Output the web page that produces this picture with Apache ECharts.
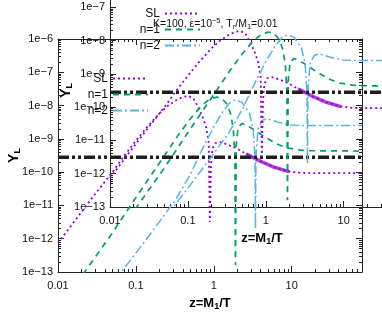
<!DOCTYPE html>
<html>
<head>
<meta charset="utf-8">
<script src="https://cdn.jsdelivr.net/npm/echarts@6/dist/echarts.min.js"></script>
<style>
  html, body { margin: 0; padding: 0; background: #fff; }
  #chart { width: 382px; height: 327px; }
</style>
</head>
<body>
<div id="chart"></div>
<script>
// |Y_L| against z = M1/T
const slZ = [0.01, 0.02, 0.03, 0.05, 0.07, 0.1, 0.14, 0.2, 0.26, 0.33, 0.4, 0.47, 0.55, 0.63, 0.72, 0.8, 0.86, 0.89,
  0.92, 0.96, 1.05, 1.2, 1.5, 2, 2.7, 4, 6, 9, 13, 20, 80];
const slY = [7.4e-13, 6.3e-12, 2.2e-11, 1.0e-10, 3.0e-10, 8.8e-10, 2.3e-9, 5.8e-9, 1.0e-8, 1.45e-8, 1.8e-8, 1.95e-8, 1.6e-8, 9e-9, 4.5e-9, 2.2e-9, 8e-10, 3.2e-12,
  1.5e-10, 5e-10, 7.5e-10, 8e-10, 6.8e-10, 5e-10, 3.4e-10, 2.1e-10, 1.4e-10, 1.05e-10, 9.5e-11, 9.3e-11, 9.3e-11];
// stretch of the SL curve where the numerics get noisy (drawn as a thick band)
const slNoisyFrom = 2.7;
const slNoisyTo = 12;

const n1Z = [0.01, 0.022, 0.05, 0.083, 0.15, 0.25, 0.35, 0.5, 0.7, 0.9, 1.1, 1.3, 1.5, 1.65, 1.78, 1.87, 1.9,
  1.94, 2.05, 2.3, 2.7, 3.5, 4.5, 6.5, 8.8, 13, 18, 80];
const n1Y = [7e-15, 1e-13, 1.5e-12, 9e-12, 7e-11, 4e-10, 1.3e-9, 4e-9, 1e-8, 1.6e-8, 1.8e-8, 1.55e-8, 1.05e-8, 5.5e-9, 2e-9, 3e-10, 1.6e-13,
  6e-10, 2.2e-9, 2.9e-9, 2.5e-9, 1.7e-9, 1.15e-9, 7e-10, 5.3e-10, 4.6e-10, 4.4e-10, 4.3e-10];

const n2Z = [0.04, 0.065, 0.1, 0.2, 0.33, 0.5, 0.7, 1.0, 1.3, 1.6, 1.9, 2.3, 2.87, 3.2, 3.38, 3.43,
  3.48, 3.7, 4.2, 4.9, 6.6, 9.6, 15, 80];
const n2Y = [2.2e-14, 1e-13, 3.7e-13, 3.2e-12, 1.6e-11, 8.5e-11, 4.5e-10, 2.3e-9, 6.5e-9, 1.2e-8, 1.5e-8, 1.25e-8, 6e-9, 2e-9, 3e-10, 2e-12,
  3e-10, 2e-9, 3.6e-9, 4e-9, 3.2e-9, 2.6e-9, 2.5e-9, 2.5e-9];

const obsY = 2.8e-10;

const zRange = [0.01, 80];
const yRange = [1e-13, 1e-6];
const zTicks = [0.01, 0.1, 1, 10];
const zLabels = ['0.01', '0.1', '1', '10'];
const yTicks = [1e-13, 1e-12, 1e-11, 1e-10, 1e-9, 1e-8, 1e-7, 1e-6];
const yLabels = ['1e\u221213', '1e\u221212', '1e\u221211', '1e\u221210', '1e\u22129', '1e\u22128', '1e\u22127', '1e\u22126'];

const FONT = '"Liberation Sans", Arial, sans-serif';
const INK = '#222';

// the figure is drawn twice, the second copy shifted up-right
const frames = [
  { left: 58, top: 39 },
  { left: 110, top: -26 },
];
const W = 304;
const H = 233;

// minor ticks 2..9 per decade
function minors(lo, hi) {
  const out = [];
  for (let e = Math.floor(Math.log10(lo)); e <= Math.ceil(Math.log10(hi)); e++) {
    for (let m = 2; m <= 9; m++) {
      const v = m * Math.pow(10, e);
      if (v > lo && v < hi) out.push(v);
    }
  }
  return out;
}
const zMinor = minors(zRange[0], zRange[1]);
const yMinor = minors(yRange[0], yRange[1]);

function pick(v, ticks, labels) {
  const i = ticks.findIndex(t => Math.abs(Math.log10(v / t)) < 0.02);
  return i < 0 ? '' : labels[i];
}

const zip = (xs, ys) => xs.map((x, i) => [x, ys[i]]);

const xAxes = [];
const yAxes = [];
frames.forEach((f, g) => {
  const xb = {
    type: 'log', logBase: 10, min: zRange[0], max: zRange[1], gridIndex: g,
    axisLine: { onZero: false, lineStyle: { color: INK, width: 1 } },
    splitLine: { show: false },
    axisLabel: { show: false },
  };
  const yb = {
    type: 'log', logBase: 10, min: yRange[0], max: yRange[1], gridIndex: g,
    axisLine: { onZero: false, lineStyle: { color: INK, width: 1 } },
    splitLine: { show: false },
    axisLabel: { show: false },
  };
  const major = { inside: true, length: 6, lineStyle: { color: INK } };
  const minor = { inside: true, length: 3, lineStyle: { color: INK } };

  xAxes.push(
    {
      ...xb, position: 'bottom', axisTick: major,
      axisLabel: {
        show: true, showMinLabel: true, showMaxLabel: true, margin: 8,
        color: '#111', fontSize: 11, fontFamily: FONT,
        formatter: v => pick(v, zTicks, zLabels),
      },
      name: '{b|z=M}{s|1}{b|/T}', nameLocation: 'middle', nameGap: 23, nameMoveOverlap: false,
      nameTextStyle: {
        rich: {
          b: { fontSize: 13, fontWeight: 'bold', fontFamily: FONT, color: '#000', lineHeight: 16 },
          s: { fontSize: 9, fontWeight: 'bold', fontFamily: FONT, color: '#000', verticalAlign: 'bottom', lineHeight: 16 },
        },
      },
    },
    { ...xb, position: 'bottom', axisLine: { show: false }, axisTick: { ...minor, customValues: zMinor } },
    { ...xb, position: 'top', axisTick: major },
    { ...xb, position: 'top', axisLine: { show: false }, axisTick: { ...minor, customValues: zMinor } },
  );
  yAxes.push(
    {
      ...yb, position: 'left', axisTick: major,
      axisLabel: {
        show: true, showMinLabel: true, showMaxLabel: true, margin: 5,
        color: '#111', fontSize: 11, fontFamily: FONT,
        formatter: v => pick(v, yTicks, yLabels),
      },
      name: '{b|Y}{s|L}', nameLocation: 'middle', nameGap: 36, nameMoveOverlap: false,
      nameTextStyle: {
        rich: {
          b: { fontSize: 14, fontWeight: 'bold', fontFamily: FONT, color: '#000', lineHeight: 16 },
          s: { fontSize: 9, fontWeight: 'bold', fontFamily: FONT, color: '#000', verticalAlign: 'bottom', lineHeight: 16 },
        },
      },
    },
    { ...yb, position: 'left', axisLine: { show: false }, axisTick: { ...minor, customValues: yMinor } },
    { ...yb, position: 'right', axisTick: major },
    { ...yb, position: 'right', axisLine: { show: false }, axisTick: { ...minor, customValues: yMinor } },
  );
});

const curves = [
  { name: 'SL', data: zip(slZ, slY), color: '#9400d3', width: 1.8, type: [2, 3] },
  { name: 'n=1', data: zip(n1Z, n1Y), color: '#009e73', width: 1.7, type: [6, 5] },
  { name: 'n=2', data: zip(n2Z, n2Y), color: '#56b4e9', width: 1.5, type: [9, 3, 2, 3] },
];
const slNoisy = zip(slZ, slY).filter(d => d[0] >= slNoisyFrom && d[0] <= slNoisyTo);

const series = [];
frames.forEach((f, g) => {
  series.push({
    name: 'SL noise', type: 'line', xAxisIndex: 4 * g, yAxisIndex: 4 * g,
    data: slNoisy, symbol: 'none', clip: true, animation: false,
    lineStyle: { color: '#9400d3', width: 3.5, opacity: 0.75, join: 'round', cap: 'round' },
  });
  curves.forEach(c => {
    series.push({
      name: c.name, type: 'line', xAxisIndex: 4 * g, yAxisIndex: 4 * g,
      data: c.data, symbol: 'none', clip: true, animation: false,
      lineStyle: { color: c.color, width: c.width, type: c.type, join: 'bevel', cap: 'butt' },
      itemStyle: { color: c.color },
    });
  });
  series.push({
    name: 'obs', type: 'line', xAxisIndex: 4 * g, yAxisIndex: 4 * g,
    data: [[zRange[0], obsY], [zRange[1], obsY]], symbol: 'none', clip: true, animation: false,
    lineStyle: { color: '#1e1e1e', width: 3.5, type: [11, 3, 3, 3, 3, 3] },
  });
});

const legends = frames.map(f => ({
  data: ['SL', 'n=1', 'n=2'],
  orient: 'vertical', align: 'right',
  left: f.left + 17, top: f.top + 28,
  itemWidth: 35, itemHeight: 12, itemGap: 3,
  selectedMode: false,
  itemStyle: { opacity: 0 },
  textStyle: {
    width: 28, align: 'right', fontSize: 12, fontFamily: FONT, color: '#111', lineHeight: 13,
  },
}));

const chart = echarts.init(document.getElementById('chart'), null, { renderer: 'canvas' });
chart.setOption({
  animation: false,
  backgroundColor: '#fff',
  title: {
    text: '{t|K=100, \u03b5=10}{sup|\u22125}{t|, T}{sub|r}{t|/M}{sub|1}{t|=0.01}',
    left: 148, top: 12,
    textStyle: {
      fontWeight: 'normal',
      rich: {
        t: { fontSize: 10.5, fontWeight: 'normal', fontFamily: FONT, color: '#111', lineHeight: 14 },
        sup: { fontSize: 7.5, fontWeight: 'normal', fontFamily: FONT, color: '#111', verticalAlign: 'top', lineHeight: 14 },
        sub: { fontSize: 7.5, fontWeight: 'normal', fontFamily: FONT, color: '#111', verticalAlign: 'bottom', lineHeight: 14 },
      },
    },
  },
  grid: frames.map(f => ({ left: f.left, top: f.top, width: W, height: H, containLabel: false, outerBoundsMode: 'none' })),
  xAxis: xAxes,
  yAxis: yAxes,
  legend: legends,
  series,
});
</script>
</body>
</html>
